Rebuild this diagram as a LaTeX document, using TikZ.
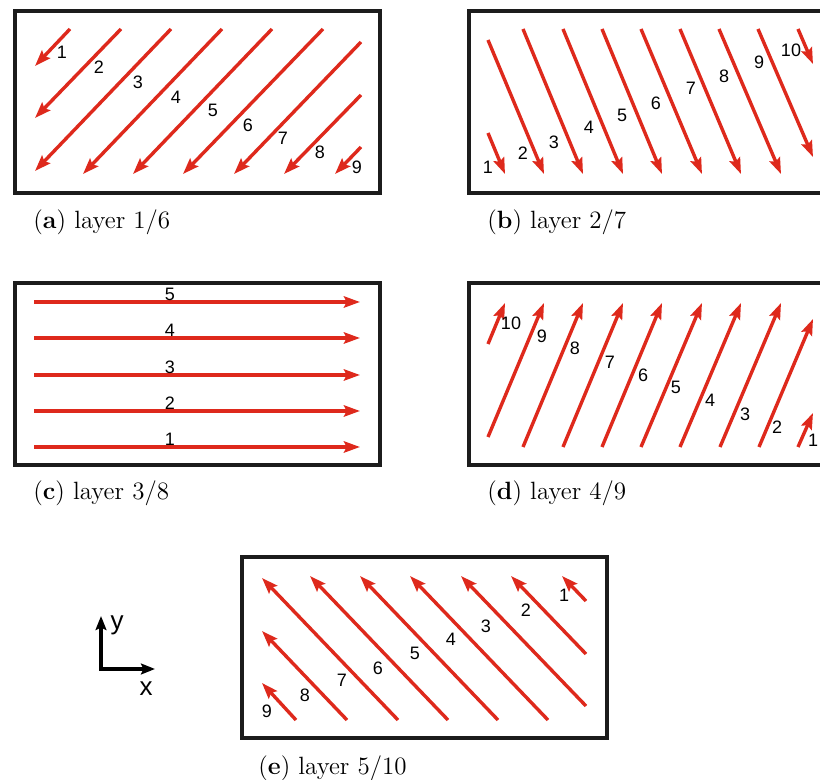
\documentclass[tikz,border=0pt]{standalone}
\usepackage{fontspec}
\newfontfamily\numfont{Liberation Sans}
\usetikzlibrary{arrows.meta}
\definecolor{scanred}{RGB}{222,41,28}
\definecolor{boxgray}{RGB}{28,28,28}
\tikzset{
  panelbox/.style={draw=boxgray,line width=1.7pt},
  scan/.style={draw=scanred,line width=1.7pt,-{Stealth[length=8pt,width=5.6pt,inset=1.3pt]}},
  axisarr/.style={draw=black,line width=1.6pt,{Stealth[length=7pt,width=5.4pt,inset=1.2pt]}-{Stealth[length=7pt,width=5.4pt,inset=1.2pt]}},
  num/.style={font=\numfont\fontsize{9}{10}\selectfont,inner sep=0pt},
  axlabel/.style={font=\numfont\fontsize{13}{14}\selectfont,inner sep=0pt},
  subcap/.style={anchor=west,font=\fontsize{12.5}{14}\selectfont,inner sep=0pt},
}

\begin{document}
\begin{tikzpicture}[x=0.5pt,y=-0.5pt]
			\useasboundingbox (0,0) rectangle (820,780);
			\clip (0,0) rectangle (820,780);

			% (a) layer 1/6
			\draw[panelbox] (15,11) rectangle (380,193);
			\foreach \xa/\ya/\xb/\yb in {70/29/35/66,121/29/35/118,171/29/35/171,222/29/83/174,272/29/133/174,323/29/183/174,361/42/234/174,361/95/284/174,361/147/335/174}
			\draw[scan] (\xa,\ya) -- (\xb,\yb);
			\foreach \n/\x/\y in {1/62/52,2/99/67,3/138/82,4/176/97,5/213/110,6/248/125,7/283/138,8/320/152,9/357/167}
			\node[num] (a\n) at (\x,\y) {\n};
			\node[subcap] (capa) at (33,222) {(\textbf{a}) layer 1/6};

			% (b) layer 2/7
			\draw[panelbox] (469,11) rectangle (834,193);
			\foreach \xa/\ya/\xb/\yb in {488/133/505/174,488/40/544/174,523/29/583/174,563/29/623/174,602/29/662/174,641/29/702/174,680/29/741/174,719/29/781/174,758/29/813/157,798/29/813/64}
			\draw[scan] (\xa,\ya) -- (\xb,\yb);
			\foreach \n/\x/\y in {1/488/167,2/523/153,3/554/142,4/589/127,5/622/115,6/656/103,7/691/88,8/724/76,9/759/62,10/791/50}
			\node[num] (b\n) at (\x,\y) {\n};
			\node[subcap] (capb) at (487,222) {(\textbf{b}) layer 2/7};

			% (c) layer 3/8
			\draw[panelbox] (15,283) rectangle (380,465);
			\foreach \n/\y in {1/447,2/411,3/375,4/338,5/302}
			{
			\draw[scan] (34,\y) -- (360,\y);
			\node[num] (c\n) at (170,\y-8) {\n};
			}
			\node[subcap] (capc) at (33,493) {(\textbf{c}) layer 3/8};

			% (d) layer 4/9
			\draw[panelbox] (469,283) rectangle (834,465);
			\foreach \xa/\ya/\xb/\yb in {488/344/505/303,488/437/544/303,523/447/583/303,563/447/623/303,602/447/662/303,641/447/702/303,680/447/741/303,720/447/781/303,759/447/813/319,798/447/813/413}
			\draw[scan] (\xa,\ya) -- (\xb,\yb);
			\foreach \n/\x/\y in {10/511/323,9/542/336,8/575/348,7/610/362,6/643/375,5/676/387,4/710/400,3/745/414,2/777/427,1/813/440}
			\node[num] (d\n) at (\x,\y) {\n};
			\node[subcap] (capd) at (487,493) {(\textbf{d}) layer 4/9};

			% (e) layer 5/10
			\draw[panelbox] (242,557) rectangle (607,738);
			\foreach \xa/\ya/\xb/\yb in {586/601/562/576,586/654/511/576,586/706/461/576,548/720/410/576,498/720/360/576,448/720/310/576,398/720/262/578,347/720/262/631,296/720/262/683}
			\draw[scan] (\xa,\ya) -- (\xb,\yb);
			\foreach \n/\x/\y in {1/564/595,2/526/610,3/486/626,4/451/639,5/415/653,6/378/668,7/342/680,8/305/695,9/267/711}
			\node[num] (e\n) at (\x,\y) {\n};
			\node[subcap] (cape) at (258,768) {(\textbf{e}) layer 5/10};

			% axes
			\coordinate (ytip) at (101,616);
			\coordinate (xtip) at (155,669);
			\draw[axisarr] (ytip) |- (xtip);
			\node[axlabel] (ylab) at (117,625) {y};
			\node[axlabel] (xlab) at (146,689) {x};
\end{tikzpicture}
\end{document}
